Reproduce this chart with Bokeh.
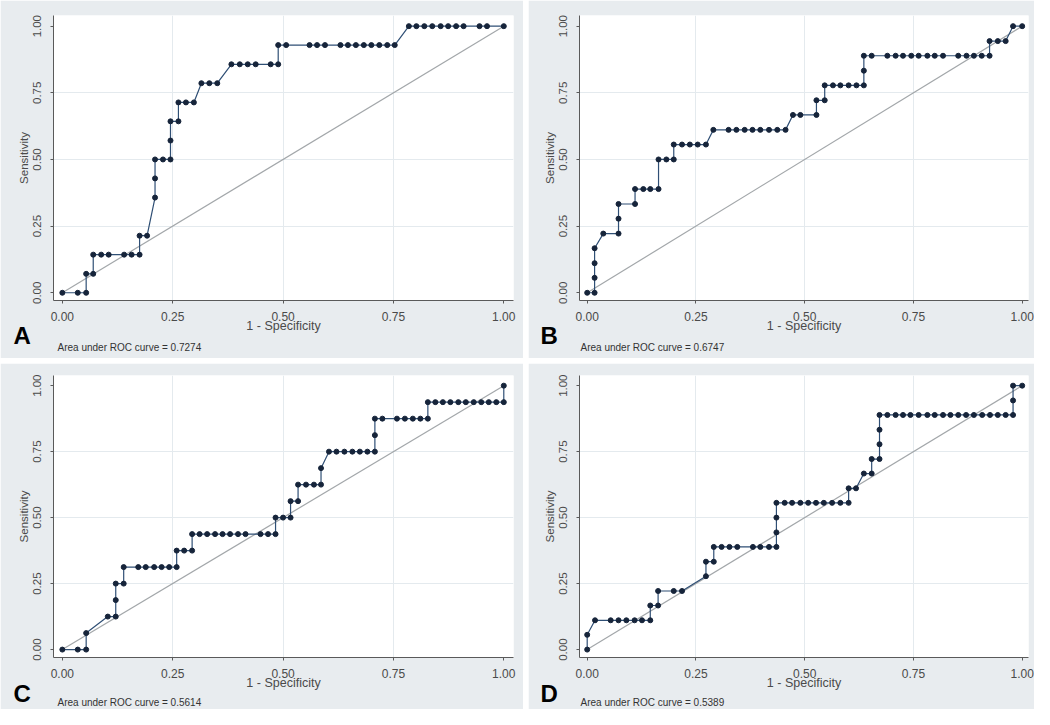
from bokeh.plotting import figure
from bokeh.models import Range1d, FixedTicker, Title
from bokeh.layouts import column, row
from bokeh.embed import file_html
from bokeh.resources import INLINE

# ---------------- data ----------------
tick_vals = [0.0, 0.25, 0.5, 0.75, 1.0]
tick_labels = ["0.00", "0.25", "0.50", "0.75", "1.00"]
panel_letters = ["A", "B", "C", "D"]
auc_texts = ["Area under ROC curve = 0.7274", "Area under ROC curve = 0.6747",
             "Area under ROC curve = 0.5614", "Area under ROC curve = 0.5389"]

fpr_a = [0, 0.035, 0.054, 0.054, 0.070, 0.070, 0.088, 0.105, 0.140, 0.157, 0.175, 0.175, 0.192,
         0.210, 0.210, 0.210, 0.228, 0.245, 0.245, 0.245, 0.263, 0.263, 0.280, 0.298, 0.315, 0.333,
         0.351, 0.383, 0.402, 0.420, 0.438, 0.472, 0.489, 0.489, 0.507, 0.560, 0.577, 0.595, 0.630,
         0.647, 0.665, 0.683, 0.700, 0.718, 0.736, 0.753, 0.785, 0.802, 0.820, 0.838, 0.857, 0.874,
         0.892, 0.909, 0.945, 0.962, 1.0]
sens_a = [0, 0, 0, 0.071, 0.071, 0.143, 0.143, 0.143, 0.143, 0.143, 0.143, 0.214, 0.214,
          0.357, 0.429, 0.5, 0.5, 0.5, 0.571, 0.643, 0.643, 0.714, 0.714, 0.714, 0.786, 0.786,
          0.786, 0.857, 0.857, 0.857, 0.857, 0.857, 0.857, 0.929, 0.929, 0.929, 0.929, 0.929, 0.929,
          0.929, 0.929, 0.929, 0.929, 0.929, 0.929, 0.929, 1, 1, 1, 1, 1, 1,
          1, 1, 1, 1, 1]

fpr_b = [0, 0.017, 0.017, 0.017, 0.017, 0.037, 0.072, 0.072, 0.072, 0.110, 0.110, 0.129, 0.145,
         0.164, 0.164, 0.182, 0.199, 0.199, 0.218, 0.236, 0.254, 0.273, 0.290, 0.325, 0.343, 0.362,
         0.380, 0.398, 0.418, 0.437, 0.456, 0.473, 0.490, 0.527, 0.527, 0.546, 0.546, 0.565, 0.582,
         0.601, 0.619, 0.636, 0.636, 0.636, 0.654, 0.690, 0.709, 0.726, 0.745, 0.762, 0.782, 0.799,
         0.818, 0.853, 0.872, 0.889, 0.907, 0.925, 0.925, 0.944, 0.962, 0.979, 1.0]
sens_b = [0, 0, 0.056, 0.111, 0.167, 0.222, 0.222, 0.278, 0.333, 0.333, 0.389, 0.389, 0.389,
          0.389, 0.5, 0.5, 0.5, 0.556, 0.556, 0.556, 0.556, 0.556, 0.611, 0.611, 0.611, 0.611,
          0.611, 0.611, 0.611, 0.611, 0.611, 0.667, 0.667, 0.667, 0.722, 0.722, 0.778, 0.778, 0.778,
          0.778, 0.778, 0.778, 0.833, 0.889, 0.889, 0.889, 0.889, 0.889, 0.889, 0.889, 0.889, 0.889,
          0.889, 0.889, 0.889, 0.889, 0.889, 0.889, 0.944, 0.944, 0.944, 1.0, 1.0]

fpr_c = [0, 0.035, 0.054, 0.054, 0.103, 0.121, 0.121, 0.121, 0.139, 0.139, 0.172, 0.189, 0.208,
         0.225, 0.242, 0.259, 0.259, 0.276, 0.294, 0.294, 0.311, 0.328, 0.346, 0.363, 0.380, 0.398,
         0.415, 0.449, 0.466, 0.483, 0.483, 0.500, 0.517, 0.517, 0.534, 0.534, 0.552, 0.570, 0.586,
         0.586, 0.604, 0.621, 0.639, 0.657, 0.674, 0.691, 0.708, 0.708, 0.708, 0.725, 0.758, 0.776,
         0.794, 0.811, 0.828, 0.828, 0.845, 0.862, 0.879, 0.897, 0.914, 0.932, 0.949, 0.966, 0.983,
         1.0, 1.0]
sens_c = [0, 0, 0, 0.0625, 0.125, 0.125, 0.1875, 0.25, 0.25, 0.3125, 0.3125, 0.3125, 0.3125,
          0.3125, 0.3125, 0.3125, 0.375, 0.375, 0.375, 0.4375, 0.4375, 0.4375, 0.4375, 0.4375, 0.4375,
          0.4375, 0.4375, 0.4375, 0.4375, 0.4375, 0.5, 0.5, 0.5, 0.5625, 0.5625, 0.625, 0.625, 0.625,
          0.625, 0.6875, 0.75, 0.75, 0.75, 0.75, 0.75, 0.75, 0.75, 0.8125, 0.875, 0.875, 0.875, 0.875,
          0.875, 0.875, 0.875, 0.9375, 0.9375, 0.9375, 0.9375, 0.9375, 0.9375, 0.9375, 0.9375, 0.9375,
          0.9375, 0.9375, 1.0]

fpr_d = [0, 0, 0.018, 0.054, 0.072, 0.090, 0.109, 0.126, 0.145, 0.145, 0.163, 0.163, 0.199,
         0.218, 0.273, 0.273, 0.291, 0.291, 0.309, 0.327, 0.345, 0.381, 0.398, 0.418, 0.435, 0.435,
         0.435, 0.435, 0.454, 0.471, 0.490, 0.508, 0.526, 0.544, 0.563, 0.582, 0.601, 0.601, 0.618,
         0.636, 0.654, 0.654, 0.672, 0.672, 0.672, 0.672, 0.690, 0.709, 0.726, 0.743, 0.762, 0.782,
         0.799, 0.818, 0.835, 0.853, 0.871, 0.889, 0.908, 0.926, 0.944, 0.962, 0.979, 0.979, 0.979,
         1.0]
sens_d = [0, 0.056, 0.111, 0.111, 0.111, 0.111, 0.111, 0.111, 0.111, 0.167, 0.167, 0.222, 0.222,
          0.222, 0.278, 0.333, 0.333, 0.389, 0.389, 0.389, 0.389, 0.389, 0.389, 0.389, 0.389, 0.444,
          0.5, 0.556, 0.556, 0.556, 0.556, 0.556, 0.556, 0.556, 0.556, 0.556, 0.556, 0.611, 0.611,
          0.667, 0.667, 0.722, 0.722, 0.778, 0.833, 0.889, 0.889, 0.889, 0.889, 0.889, 0.889, 0.889,
          0.889, 0.889, 0.889, 0.889, 0.889, 0.889, 0.889, 0.889, 0.889, 0.889, 0.889, 0.944, 1.0,
          1.0]

# ---------------- styling ----------------
FONT = "Liberation Sans"
PANEL_BG = "#e8ecef"
LINE_COL = "#2f4f75"
DOT_COL = "#16243a"
DIAG_COL = "#a3a7aa"


def make_panel(fpr, sens, letter, auc, width, height, xr, yr, ml, mr, mt, mb,
               letter_off, auc_off, letter_so, auc_so):
    p = figure(width=width, height=height, x_range=Range1d(*xr), y_range=Range1d(*yr),
               output_backend="svg", toolbar_location=None,
               min_border_left=ml, min_border_right=mr, min_border_top=mt, min_border_bottom=mb,
               background_fill_color="white", border_fill_color=PANEL_BG,
               outline_line_color=None)
    for ax in (p.xaxis, p.yaxis):
        ax.ticker = FixedTicker(ticks=tick_vals)
        ax.major_label_overrides = dict(zip(tick_vals, tick_labels))
        ax.minor_tick_line_color = None
        ax.major_tick_out = 3
        ax.major_tick_in = 0
        ax.axis_line_color = "#5a5a5a"
        ax.major_tick_line_color = "#5a5a5a"
        ax.major_label_text_font = FONT
        ax.major_label_text_color = "#4a4a4a"
        ax.axis_label_text_font = FONT
        ax.axis_label_text_font_style = "normal"
        ax.axis_label_text_color = "#4a4a4a"
    p.xaxis.major_label_text_font_size = "12px"
    p.xaxis.major_label_standoff = 8
    p.xaxis.axis_label = "1 - Specificity"
    p.xaxis.axis_label_text_font_size = "12.5px"
    p.xaxis.axis_label_standoff = -5
    p.yaxis.major_label_text_font_size = "11.5px"
    p.yaxis.major_label_orientation = "vertical"
    p.yaxis.major_label_standoff = 9
    p.yaxis.axis_label = "Sensitivity"
    p.yaxis.axis_label_text_font_size = "11.5px"
    p.yaxis.axis_label_standoff = 1

    p.xgrid.ticker = FixedTicker(ticks=tick_vals[1:-1])
    p.ygrid.ticker = FixedTicker(ticks=tick_vals[1:-1])
    p.grid.grid_line_color = "#e4eaee"
    p.grid.grid_line_width = 1

    p.line([0, 1], [0, 1], line_color=DIAG_COL, line_width=1.2)
    p.line(fpr, sens, line_color=LINE_COL, line_width=1.2)
    p.scatter(fpr, sens, size=5, fill_color=DOT_COL, line_color=DOT_COL)

    p.add_layout(Title(text=letter, align="left", vertical_align="middle", offset=letter_off,
                       standoff=letter_so, text_font=FONT, text_font_size="24px",
                       text_font_style="bold", text_color="black"), "below")
    p.add_layout(Title(text=auc, align="left", vertical_align="middle", offset=auc_off,
                       standoff=auc_so, text_font=FONT, text_font_size="10px",
                       text_font_style="normal", text_color="#333333"), "below")
    return p


pA = make_panel(fpr_a, sens_a, panel_letters[0], auc_texts[0], 523, 358,
                (-0.02, 1.022), (-0.029, 1.04), 53, 10, 15, 57, -40, 4, -35, 10)
pB = make_panel(fpr_b, sens_b, panel_letters[1], auc_texts[1], 506, 358,
                (-0.0177, 1.0145), (-0.029, 1.04), 51, 6, 15, 57, -39, 1, -35, 10)
pC = make_panel(fpr_c, sens_c, panel_letters[2], auc_texts[2], 523, 346,
                (-0.02, 1.022), (-0.03, 1.0385), 53, 10, 12, 50, -40, 4, -27, 2)
pD = make_panel(fpr_d, sens_d, panel_letters[3], auc_texts[3], 506, 346,
                (-0.0177, 1.0145), (-0.03, 1.0385), 51, 6, 12, 50, -39, 1, -27, 2)

layout = column(row(pA, pB, spacing=5), row(pC, pD, spacing=5), spacing=5)

open("out.html", "w").write(file_html(layout, INLINE))
